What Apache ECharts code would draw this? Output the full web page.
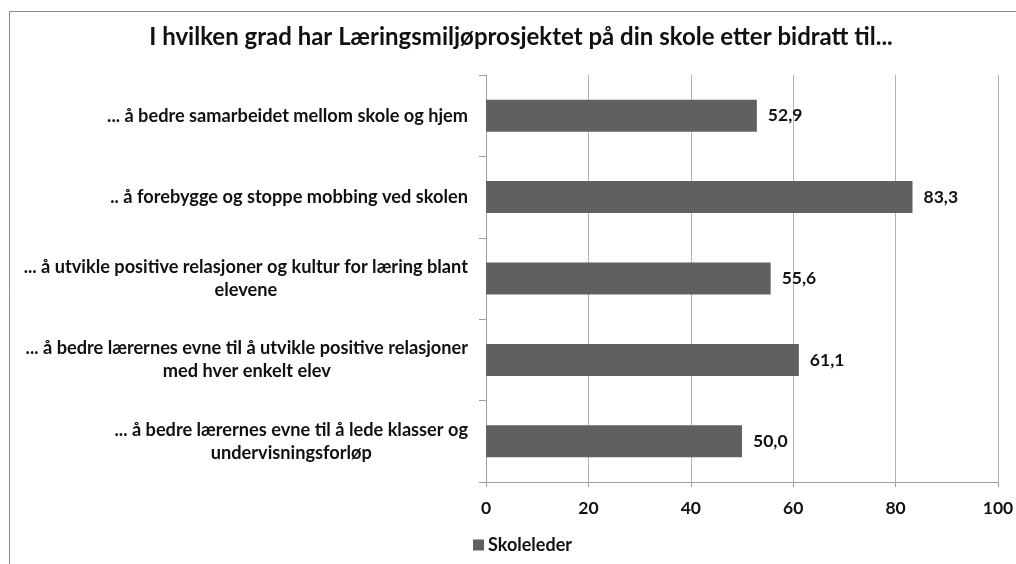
<!DOCTYPE html>
<html>
<head>
<meta charset="utf-8">
<title>Læringsmiljøprosjektet</title>
<script src="https://cdn.jsdelivr.net/npm/echarts@6/dist/echarts.min.js"></script>
<style>
  html, body { margin: 0; padding: 0; background: #fff; }
  #chart { width: 1016px; height: 564px; }
</style>
</head>
<body>
<div id="chart"></div>
<script>
const titleText = "I hvilken grad har Læringsmiljøprosjektet på din skole etter bidratt til...";
const seriesName = "Skoleleder";

// top to bottom, as in the picture
const categories = [
  "... å bedre samarbeidet mellom skole og hjem",
  ".. å forebygge og stoppe mobbing ved skolen",
  "... å utvikle positive relasjoner og kultur for læring blant\nelevene",
  "... å bedre lærernes evne til å utvikle positive relasjoner\nmed hver enkelt elev",
  "... å bedre lærernes evne til å lede klasser og\nundervisningsforløp"
];
const values = [52.9, 83.3, 55.6, 61.1, 50.0];

const xMin = 0;
const xMax = 100;
const xStep = 20;

const font = "Lato, 'Open Sans', sans-serif";
const textColor = "#111";
const axisColor = "#a0a0a0";
const barColor = "#606060";

const chart = echarts.init(document.getElementById("chart"));

const option = {
  backgroundColor: "#fff",
  animation: false,
  graphic: [
    {
      type: "rect",
      shape: { x: 9.5, y: 11.5, width: 1100, height: 700 },
      style: { fill: "none", stroke: "#8a8a8a", lineWidth: 1 },
      z: -1
    }
  ],
  title: {
    text: titleText,
    left: 521,
    top: 25,
    textAlign: "center",
    padding: 0,
    textStyle: {
      fontFamily: font,
      fontSize: 24,
      fontWeight: "bold",
      color: textColor
    }
  },
  legend: {
    data: [seriesName],
    left: 473,
    top: 536,
    padding: 0,
    icon: "rect",
    itemWidth: 11,
    itemHeight: 11,
    itemGap: 10,
    textStyle: {
      fontFamily: font,
      fontSize: 18,
      fontWeight: "bold",
      color: textColor,
      padding: [0, 0, 0, -1]
    }
  },
  grid: {
    left: 486,
    right: 18,
    top: 75,
    bottom: 82,
    outerBoundsMode: "none"
  },
  xAxis: {
    type: "value",
    min: xMin,
    max: xMax,
    interval: xStep,
    axisLine: { show: true, lineStyle: { color: axisColor, width: 1 } },
    axisTick: { show: true, length: 5, lineStyle: { color: axisColor } },
    splitLine: { show: true, lineStyle: { color: "#b4b4b4", width: 1 } },
    axisLabel: {
      margin: 17,
      fontFamily: font,
      fontSize: 17.5,
      fontWeight: "bold",
      color: textColor
    }
  },
  yAxis: {
    type: "category",
    data: categories,
    inverse: true,
    axisLine: { show: true, lineStyle: { color: axisColor, width: 1 } },
    axisTick: { show: true, length: 7, lineStyle: { color: axisColor } },
    splitLine: { show: false },
    axisLabel: {
      margin: 18,
      align: "right",
      lineHeight: 23,
      formatter: (v) => v.split("\n").map((s) => "{c|" + s + "}").join("\n"),
      rich: {
        c: {
          align: "center",
          fontFamily: font,
          fontSize: 18.2,
          fontWeight: "bold",
          color: textColor,
          lineHeight: 23
        }
      }
    }
  },
  series: [
    {
      name: seriesName,
      type: "bar",
      data: values,
      barWidth: 32,
      itemStyle: { color: barColor },
      label: {
        show: true,
        position: "right",
        distance: 11,
        formatter: (p) => p.value.toFixed(1).replace(".", ","),
        fontFamily: font,
        fontSize: 17.5,
        fontWeight: "bold",
        color: textColor
      }
    }
  ]
};

chart.setOption(option);
</script>
</body>
</html>
